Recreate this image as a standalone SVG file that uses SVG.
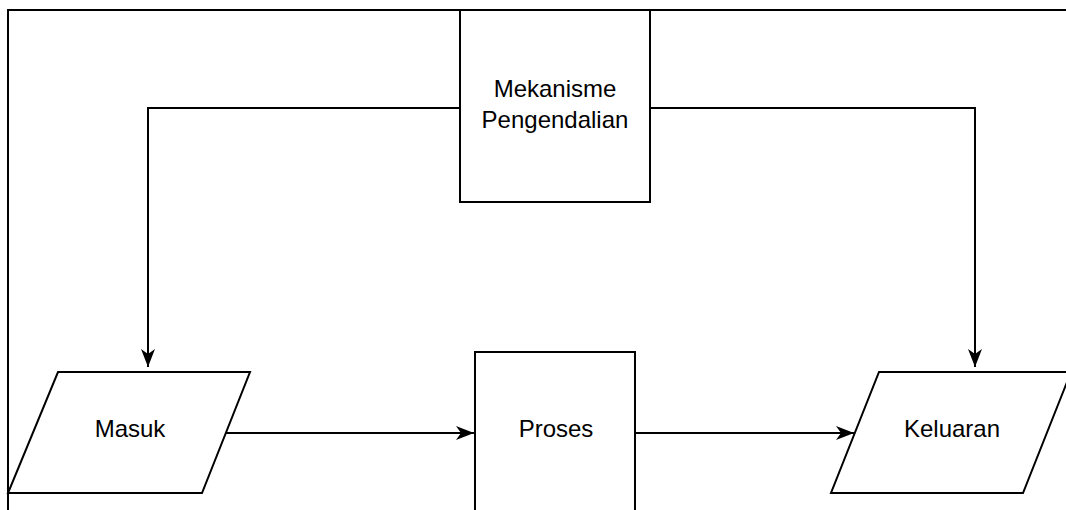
<svg xmlns="http://www.w3.org/2000/svg" width="1066" height="510" viewBox="0 0 1066 510">
  <style>
    .shape { fill: #ffffff; stroke: #000000; stroke-width: 2; }
    .edge { fill: none; stroke: #000000; stroke-width: 2; }
    .label { font-family: "Liberation Sans", Arial, sans-serif; font-size: 24px; fill: #000000; text-anchor: middle; }
  </style>
  <defs>
    <marker id="arrow" markerUnits="userSpaceOnUse" markerWidth="20" markerHeight="16" viewBox="0 -8 20 16" refX="18" refY="0" orient="auto">
      <path d="M0,-7 L18,0 L0,7 L5,0 Z" fill="#000000" stroke="none"/>
    </marker>
  </defs>
  <rect width="1066" height="510" fill="#ffffff"/>
  <g id="frame">
    <path class="edge" d="M8,512 V10 H1068"/>
  </g>
  <g id="connectors">
    <path class="edge" d="M460,108 H148 V367" marker-end="url(#arrow)"/>
    <path class="edge" d="M650,108 H975 V367" marker-end="url(#arrow)"/>
    <path class="edge" d="M226,433 H474" marker-end="url(#arrow)"/>
    <path class="edge" d="M635,433 H854" marker-end="url(#arrow)"/>
  </g>
  <g id="mekanisme">
    <rect class="shape" x="460" y="10" width="190" height="192"/>
    <text class="label" x="555" y="97">Mekanisme</text>
    <text class="label" x="555" y="128">Pengendalian</text>
  </g>
  <g id="masuk">
    <polygon class="shape" points="58,372 250,372 202,493 8,493"/>
    <text class="label" x="130" y="437">Masuk</text>
  </g>
  <g id="proses">
    <rect class="shape" x="475" y="352" width="160" height="170"/>
    <text class="label" x="556" y="437">Proses</text>
  </g>
  <g id="keluaran">
    <polygon class="shape" points="879,372 1071,372 1023,493 831,493"/>
    <text class="label" x="952" y="437">Keluaran</text>
  </g>
</svg>
